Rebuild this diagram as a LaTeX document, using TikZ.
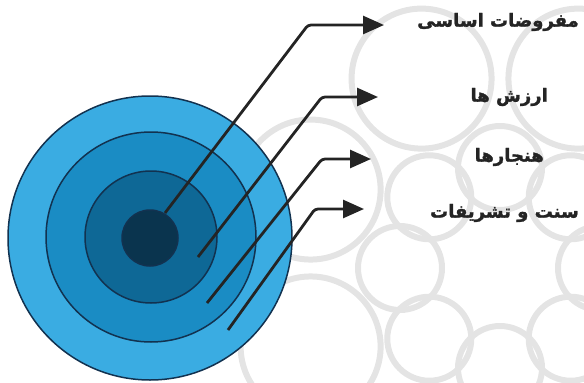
\documentclass[tikz,border=0pt]{standalone}
\usepackage{fontspec}
\newfontfamily\farsi[Script=Arabic, BoldFont={DejaVu Sans Bold}, BoldFeatures={FakeBold=1.5}]{DejaVu Sans}
\TeXXeTstate=1
\usetikzlibrary{arrows.meta,positioning}
\definecolor{ringA}{RGB}{58,172,226}
\definecolor{ringB}{RGB}{26,140,196}
\definecolor{ringC}{RGB}{14,104,150}
\definecolor{ringD}{RGB}{10,52,78}
\definecolor{ringline}{RGB}{18,50,80}
\definecolor{arrowgray}{RGB}{36,36,36}
\definecolor{orn}{RGB}{228,228,228}

\begin{document}
\begin{tikzpicture}[
    x=1pt, y=-1pt,
    ring/.style={circle, draw=ringline, line width=1.5pt, inner sep=0pt},
    arrow/.style={-{Triangle[length=21pt,width=18pt]}, line width=2.8pt, draw=arrowgray, rounded corners=3pt},
    label/.style={anchor=east, inner sep=0pt, text=arrowgray, font=\farsi\bfseries\fontsize{18}{21}\selectfont}
]
\useasboundingbox (0,0) rectangle (584,383);
\clip (0,0) rectangle (584,383);

% background ornament
\begin{scope}[draw=orn, line width=6pt, shift={(500,268)}]
\foreach \a in {0,45,...,315}
    \draw (\a:100) circle[radius=42];
\foreach \a in {22.5,67.5,...,337.5}
    \draw (\a:205) circle[radius=70];
\end{scope}

% rings
\node[ring, fill=ringA, minimum size=284pt] (outer) at (150,238) {};
\node[ring, fill=ringB, minimum size=210pt] (second) at (151,237) {};
\node[ring, fill=ringC, minimum size=132pt] (third) at (151,237) {};
\node[ring, fill=ringD, minimum size=56pt] (core) at (150,238) {};

% labels
\node[label] (assump) at (579,22) {\beginR مفروضات اساسی\endR};
\node[label] (values) at (548,97) {\beginR ارزش ها\endR};
\node[label] (norms) at (544,157) {\beginR هنجارها\endR};
\node[label] (rituals) at (579,213) {\beginR سنت و تشریفات\endR};

% arrows
\coordinate (s1) at (165,213); \coordinate (k1) at (308,25); \coordinate (e1) at (384,25);
\coordinate (s2) at (198,257); \coordinate (k2) at (322,97); \coordinate (e2) at (378,97);
\coordinate (s3) at (207,303); \coordinate (k3) at (322,159); \coordinate (e3) at (371,159);
\coordinate (s4) at (228,330); \coordinate (k4) at (315,209); \coordinate (e4) at (364,209);

\draw[arrow] (s1) -- (k1) -- (e1);
\draw[arrow] (s2) -- (k2) -- (e2);
\draw[arrow] (s3) -- (k3) -- (e3);
\draw[arrow] (s4) -- (k4) -- (e4);
\end{tikzpicture}
\end{document}
